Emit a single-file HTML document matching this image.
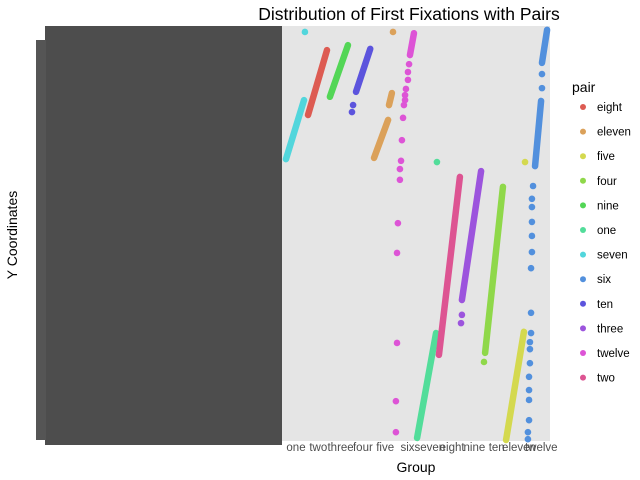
<!DOCTYPE html>
<html><head><meta charset="utf-8"><style>
body{margin:0;background:#fff;}
svg{display:block;font-family:"Liberation Sans",sans-serif;}
</style></head><body>
<svg id="chart" width="640" height="480" viewBox="0 0 640 480" xmlns="http://www.w3.org/2000/svg">
<rect x="282" y="26" width="268" height="415" fill="#e5e5e5"/>
<rect x="45" y="26" width="237" height="419" fill="#4d4d4d"/>
<rect x="36" y="40" width="10" height="400" fill="#555"/>
<text x="409" y="20" font-size="17.5" text-anchor="middle" fill="#000">Distribution of First Fixations with Pairs</text>
<text x="416" y="472" font-size="14" text-anchor="middle" fill="#000">Group</text>
<text transform="translate(17,235) rotate(-90)" font-size="14" text-anchor="middle" fill="#000">Y Coordinates</text>
<g id="xticks"></g>
<g id="marks"></g>
<g id="legend"></g>
</svg>
<script>
const categories = ["one","two","three","four","five","six","seven","eight","nine","ten","eleven","twelve"];
const legendPairs = ["eight","eleven","five","four","nine","one","seven","six","ten","three","twelve","two"];
const pairColors = {eight:"#dd5b52",eleven:"#dba15a",five:"#d4d94f",four:"#8fd84a",nine:"#53d656",one:"#52dd9a",seven:"#52d6dc",six:"#5290dd",ten:"#5c54dd",three:"#9c54dd",twelve:"#dd54d6",two:"#dd5492"};
const segSeven = [[[0.55,68],[1.36,82.3]]];
const ptsSeven = [[1.4,98.8]];
const segEight = [[[1.54,78.7],[2.39,94.4]]];
const ptsEight = [];
const segNine = [[[2.52,83.1],[3.33,95.6]]];
const ptsNine = [];
const segTen = [[[3.69,84.3],[4.33,94.7]]];
const ptsTen = [[3.51,79.4],[3.56,81.1]];
const segEleven = [[[4.50,68.3],[5.13,77.5]],[[5.17,81.1],[5.30,84.0]]];
const ptsEleven = [[5.35,98.8]];
const segTwelve = [[[6.29,98.5],[6.11,93.2]]];
const ptsTwelve = [[6.07,91],[6.02,89.1],[6.02,87.2],[5.93,85],[5.89,83.5],[5.89,82.3],[5.84,81.1],[5.80,78],[5.75,72.6],[5.71,67.6],[5.66,65.6],[5.66,63],[5.57,52.5],[5.53,45.3],[5.53,23.5],[5.48,9.4],[5.48,1.9]];
const segOne = [[[6.43,0.5],[7.28,25.9]]];
const ptsOne = [[7.32,67.3]];
const segTwo = [[[8.35,63.7],[7.41,20.6]]];
const ptsTwo = [];
const segThree = [[[9.30,65.1],[8.44,33.9]]];
const ptsThree = [[8.44,30.3],[8.40,28.3]];
const segFour = [[[10.28,61.3],[9.48,21.1]]];
const ptsFour = [[9.43,18.9]];
const segFive = [[[11.22,26.2],[10.42,0]]];
const ptsFive = [[11.27,67.3]];
const segSix = [[[12.26,99.3],[12.03,91.3]],[[11.99,82.1],[11.72,66.3]]];
const ptsSix = [[12.03,88.6],[12.03,85.2],[11.63,61.5],[11.58,58.4],[11.58,56.4],[11.58,52.8],[11.58,49.4],[11.58,45.5],[11.54,41.6],[11.54,30.8],[11.54,25.9],[11.49,23.7],[11.49,22],[11.49,18.6],[11.45,15.3],[11.45,12.1],[11.45,9.7],[11.45,4.8],[11.40,1.9],[11.40,0.2]];

const NS="http://www.w3.org/2000/svg";
function xs(g){return 296+(g-1)*22.3;}
function ys(v){return 440-v*4.13;}
const series=[["seven",segSeven,ptsSeven],["eight",segEight,ptsEight],["nine",segNine,ptsNine],["ten",segTen,ptsTen],["eleven",segEleven,ptsEleven],["twelve",segTwelve,ptsTwelve],["one",segOne,ptsOne],["two",segTwo,ptsTwo],["three",segThree,ptsThree],["four",segFour,ptsFour],["five",segFive,ptsFive],["six",segSix,ptsSix]];
const marks=document.getElementById('marks');
series.forEach(([name,segs,pts])=>{
  const g=document.createElementNS(NS,'g');
  
  
  segs.forEach(s=>{
    const l=document.createElementNS(NS,'line');
    
    
    l.setAttribute('x1',xs(s[0][0]));l.setAttribute('y1',ys(s[0][1]));
    l.setAttribute('x2',xs(s[1][0]));l.setAttribute('y2',ys(s[1][1]));
    l.setAttribute('stroke',pairColors[name]);l.setAttribute('stroke-width','6.5');l.setAttribute('stroke-linecap','round');
    g.appendChild(l);
  });
  pts.forEach(p=>{
    const c=document.createElementNS(NS,'circle');
    
    
    c.setAttribute('cx',xs(p[0]));c.setAttribute('cy',ys(p[1]));c.setAttribute('r','3.3');
    c.setAttribute('fill',pairColors[name]);
    g.appendChild(c);
  });
  marks.appendChild(g);
});
const xt=document.getElementById('xticks');
categories.forEach((c,i)=>{
  const t=document.createElementNS(NS,'text');
  
  
  t.setAttribute('x',xs(i+1));t.setAttribute('y','451');t.setAttribute('font-size','11.5');
  t.setAttribute('text-anchor','middle');t.setAttribute('fill','#4d4d4d');
  t.textContent=c;xt.appendChild(t);
});
const lg=document.getElementById('legend');
const lt=document.createElementNS(NS,'text');


lt.setAttribute('x','572');lt.setAttribute('y','92');lt.setAttribute('font-size','14');lt.textContent='pair';
lg.appendChild(lt);
legendPairs.forEach((p,i)=>{
  const y=107+i*24.6;
  const c=document.createElementNS(NS,'circle');
  
  
  c.setAttribute('cx','583');c.setAttribute('cy',y);c.setAttribute('r','3');c.setAttribute('fill',pairColors[p]);
  lg.appendChild(c);
  const t=document.createElementNS(NS,'text');
  
  
  t.setAttribute('x','597');t.setAttribute('y',y+4);t.setAttribute('font-size','11.5');
  t.textContent=p;lg.appendChild(t);
});
</script>
</body></html>
